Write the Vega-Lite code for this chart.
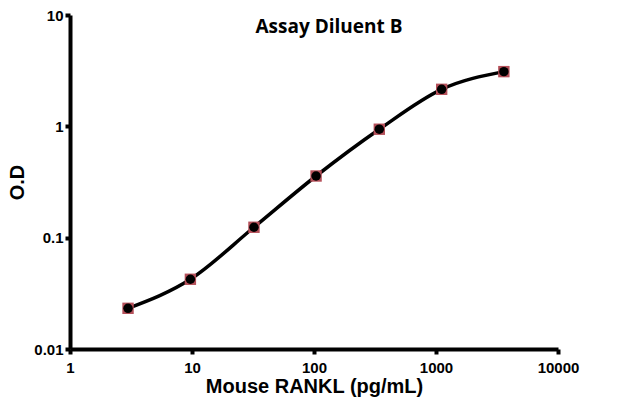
{
  "$schema": "https://vega.github.io/schema/vega-lite/v6.json",
  "width": 488,
  "height": 334,
  "autosize": "none",
  "padding": {"left": 70, "top": 15, "right": 64, "bottom": 55},
  "background": "white",
  "title": {"text": "Assay Diluent B", "font": "Open Sans", "fontSize": 19, "fontWeight": "bold", "color": "#000000", "anchor": "middle", "dx": 15, "offset": -29},
  "data": {"values": [
    {"conc": 2.99, "od": 0.0232},
    {"conc": 9.7, "od": 0.0423},
    {"conc": 32.2, "od": 0.124},
    {"conc": 104, "od": 0.358},
    {"conc": 343, "od": 0.942},
    {"conc": 1113, "od": 2.15},
    {"conc": 3600, "od": 3.1}
  ]},
  "config": {
    "view": {"stroke": null},
    "axis": {
      "domainColor": "#000000", "domainWidth": 4, "tickColor": "#000000", "tickWidth": 4, "tickSize": 5,
      "labelFont": "Liberation Sans", "labelFontSize": 15, "labelFontWeight": "bold", "labelColor": "#000000",
      "titleFont": "Liberation Sans", "titleFontSize": 20, "titleFontWeight": "bold", "titleColor": "#000000",
      "grid": false
    }
  },
  "encoding": {
    "x": {"field": "conc", "type": "quantitative", "scale": {"type": "log", "domain": [1, 10000], "nice": false},
      "axis": {"title": "Mouse RANKL  (pg/mL)", "values": [1, 10, 100, 1000, 10000], "format": "d", "labelPadding": 6, "titlePadding": 1, "labelFlush": false}},
    "y": {"field": "od", "type": "quantitative", "scale": {"type": "log", "domain": [0.01, 10], "nice": false},
      "axis": {"title": "O.D", "values": [0.01, 0.1, 1, 10], "format": "~g", "labelPadding": 2, "titlePadding": 6, "labelFlush": false}}
  },
  "layer": [
    {"mark": {"type": "line", "interpolate": "monotone", "color": "#000000", "strokeWidth": 3.5}},
    {"mark": {"type": "square", "size": 130, "color": "#b5505a", "opacity": 1, "filled": true}},
    {"mark": {"type": "circle", "size": 90, "color": "#000000", "opacity": 1}}
  ]
}
